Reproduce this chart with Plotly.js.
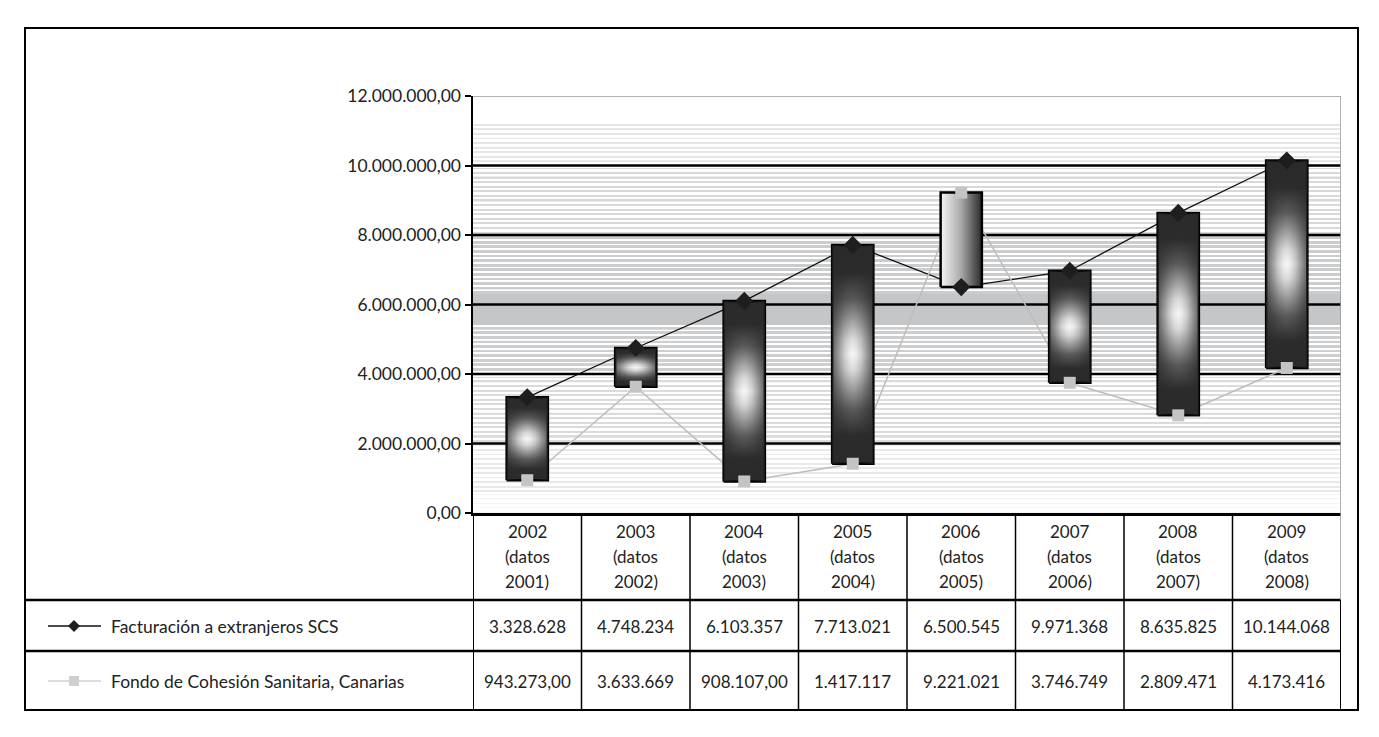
<!DOCTYPE html>
<html>
<head>
<meta charset="utf-8">
<script src="https://cdn.plot.ly/plotly-3.0.1.min.js"></script>
<style>html,body{margin:0;padding:0;background:#fff;}#chart{width:1379px;height:737px;}</style>
</head>
<body>
<div id="chart"></div>
<script>
// ---- data ----
var categories = ['2002 (datos 2001)','2003 (datos 2002)','2004 (datos 2003)','2005 (datos 2004)','2006 (datos 2005)','2007 (datos 2006)','2008 (datos 2007)','2009 (datos 2008)'];
var seriesNames = ['Facturación a extranjeros SCS','Fondo de Cohesión Sanitaria, Canarias'];
var facturacion = [3328628, 4748234, 6103357, 7713021, 6500545, 6971368, 8635825, 10144068];
var fondo = [943273, 3633669, 908107, 1417117, 9221021, 3746749, 2809471, 4173416];
var facturacionTable = ['3.328.628','4.748.234','6.103.357','7.713.021','6.500.545','9.971.368','8.635.825','10.144.068'];
var fondoTable = ['943.273,00','3.633.669','908.107,00','1.417.117','9.221.021','3.746.749','2.809.471','4.173.416'];
var yTickVals = [0, 2000000, 4000000, 6000000, 8000000, 10000000, 12000000];
var yTickText = ['0,00','2.000.000,00','4.000.000,00','6.000.000,00','8.000.000,00','10.000.000,00','12.000.000,00'];

// ---- layout geometry helpers (pixels -> paper) ----
var W = 1379, H = 737;
var mL = 473, mR = 38, mT = 96, mB = 224;
var pw = W - mL - mR, ph = H - mT - mB;
function px(x){ return (x - mL) / pw; }
function py(y){ return (H - mB - y) / ph; }
var FONT = 'Lato, "Open Sans", sans-serif';
var TXT = '#222';

var n = categories.length;
var xs = categories.map(function(_, i){ return i; });
var yMax = yTickVals[yTickVals.length - 1];
var half = 0.19;

// ---- striped background texture (decoration: zones of stripe density) ----
var zones = [ // [from, to, duty, stripe colour] as fractions of plot height from bottom
  [0.00, 0.05, 0.20, '#f4f4f4'],
  [0.05, 0.17, 0.40, '#e9e9e9'],
  [0.17, 0.33, 0.45, '#dbdbdb'],
  [0.33, 0.45, 0.60, '#cdcecf'],
  [0.45, 0.525, 1.00, '#c4c6c8'],
  [0.525, 0.67, 0.60, '#cbcccd'],
  [0.67, 0.83, 0.45, '#d8d9da'],
  [0.83, 0.94, 0.40, '#e6e6e6'],
  [0.94, 1.00, 0.00, '#ffffff']
];
var period = 0.011, eps = 0.0001;
var bgScale = [];
function addStop(t, c){ if (bgScale.length && t <= bgScale[bgScale.length-1][0]) t = bgScale[bgScale.length-1][0] + 0.00001; if (t > 1) t = 1; bgScale.push([t, c]); }
zones.forEach(function(z){
  if (z[2] >= 1 || z[2] <= 0) {
    var c = z[2] >= 1 ? z[3] : '#ffffff';
    addStop(z[0] + eps, c); addStop(z[1] - eps, c); return;
  }
  for (var t = z[0]; t < z[1] - 1e-9; t += period) {
    var e = Math.min(t + period, z[1]);
    var m = t + (e - t) * z[2];
    addStop(t + eps, z[3]); addStop(m - eps, z[3]);
    addStop(m + eps, '#ffffff'); addStop(e - eps, '#ffffff');
  }
});
bgScale[0][0] = 0; bgScale[bgScale.length-1][0] = 1;

var traces = [];
traces.push({
  type:'scatter', mode:'lines', x:[-0.5,7.5,7.5,-0.5,-0.5], y:[0,0,yMax,yMax,0],
  fill:'toself', line:{width:0}, hoverinfo:'skip', showlegend:false,
  fillgradient:{type:'vertical', colorscale:bgScale}
});
// gridlines
var gx = [], gy = [];
yTickVals.slice(1, -1).forEach(function(v){ gx.push(-0.5, 7.5, null); gy.push(v, v, null); });
traces.push({type:'scatter', mode:'lines', x:gx, y:gy, line:{color:'#000', width:2.5}, hoverinfo:'skip', showlegend:false});
traces.push({type:'scatter', mode:'lines', x:[-0.5,7.5,7.5], y:[yMax,yMax,0], line:{color:'#999', width:1.5}, hoverinfo:'skip', showlegend:false});
// series lines (behind bars)
traces.push({type:'scatter', mode:'lines', x:xs, y:facturacion, line:{color:'#111', width:1.3}, hoverinfo:'skip', showlegend:false});
traces.push({type:'scatter', mode:'lines', x:xs, y:fondo, line:{color:'#bdbdbd', width:1.5}, hoverinfo:'skip', showlegend:false});
// up/down bars
var downV = [[0,'#2a2a2a'],[0.13,'#2c2c2c'],[0.25,'#5a5a5a'],[0.35,'#a2a2a2'],[0.43,'#dcdcdc'],[0.5,'#f6f6f6'],
             [0.57,'#dcdcdc'],[0.65,'#a2a2a2'],[0.75,'#5a5a5a'],[0.87,'#2c2c2c'],[1,'#2a2a2a']];
var downH = [[0,'rgba(42,42,42,0.72)'],[0.15,'rgba(42,42,42,0.45)'],[0.3,'rgba(42,42,42,0.18)'],[0.42,'rgba(42,42,42,0.04)'],[0.5,'rgba(42,42,42,0)'],
             [0.58,'rgba(42,42,42,0.04)'],[0.7,'rgba(42,42,42,0.18)'],[0.85,'rgba(42,42,42,0.45)'],[1,'rgba(42,42,42,0.72)']];
for (var i = 0; i < n; i++) {
  var lo = Math.min(facturacion[i], fondo[i]), hi = Math.max(facturacion[i], fondo[i]);
  var up = fondo[i] > facturacion[i];
  var rx = [i-half, i+half, i+half, i-half, i-half], ry = [lo, lo, hi, hi, lo];
  traces.push({
    type:'scatter', mode:'lines', x:rx, y:ry,
    fill:'toself', line:{color:'#000', width:2.5}, hoverinfo:'skip', showlegend:false,
    fillgradient: up ?
      {type:'horizontal', colorscale:[[0,'#f6f6f6'],[0.5,'#a8a8a8'],[1,'#2a2a2a']]} :
      {type:'vertical', colorscale:downV}
  });
  if (!up) {
    traces.push({
      type:'scatter', mode:'lines', x:rx, y:ry,
      fill:'toself', line:{width:0}, hoverinfo:'skip', showlegend:false,
      fillgradient:{type:'horizontal', colorscale:downH}
    });
  }
}
// markers on top
traces.push({type:'scatter', mode:'markers', x:xs, y:facturacion, name:seriesNames[0],
  marker:{symbol:'diamond', size:14, color:'#1e1e1e'}, showlegend:false});
traces.push({type:'scatter', mode:'markers', x:xs, y:fondo, name:seriesNames[1],
  marker:{symbol:'square', size:12, color:'#c4c4c4'}, showlegend:false});

// ---- data table ----
var shapes = [];
var ann = [];
function hline(y, x0, x1, w){ shapes.push({type:'line', xref:'paper', yref:'paper', x0:px(x0), x1:px(x1), y0:py(y), y1:py(y), line:{color:'#000', width:w}}); }
shapes.push({type:'rect', xref:'paper', yref:'paper', x0:px(25), x1:px(1358), y0:py(710), y1:py(28), line:{color:'#000', width:2}});
hline(600, 25, 1341, 2.5);
hline(651, 25, 1341, 2.5);
for (var k = 0; k <= n; k++) {
  if (k === n) {
    shapes.push({type:'line', xref:'x', yref:'paper', x0:k-0.5, x1:k-0.5, y0:py(513), y1:py(600), line:{color:'#999', width:1.5}});
    shapes.push({type:'line', xref:'x', yref:'paper', x0:k-0.5, x1:k-0.5, y0:py(600), y1:py(710), line:{color:'#000', width:2}});
  } else {
    shapes.push({type:'line', xref:'x', yref:'paper', x0:k-0.5, x1:k-0.5, y0:py(513), y1:py(710), line:{color:'#000', width:k===0?2:1.5}});
  }
}
// category labels (three lines each)
var catLineY = [531, 556, 581];
categories.forEach(function(c, j){
  c.split(' ').forEach(function(part, li){
    ann.push({xref:'x', yref:'paper', x:j, y:py(catLineY[li]), text:part, showarrow:false,
      xanchor:'center', yanchor:'middle', font:{family:FONT, size:17, color:TXT}});
  });
});
var rowY = [626, 681];
var rowText = [facturacionTable, fondoTable];
for (var r = 0; r < 2; r++) {
  for (var j = 0; j < n; j++) {
    ann.push({xref:'x', yref:'paper', x:j, y:py(rowY[r]), text:rowText[r][j], showarrow:false,
      xanchor:'center', yanchor:'middle', font:{family:FONT, size:17, color:TXT}});
  }
  ann.push({xref:'paper', yref:'paper', x:px(109), y:py(rowY[r]), text:seriesNames[r], showarrow:false,
    xanchor:'left', yanchor:'middle', font:{family:FONT, size:17.5, color:TXT}});
}
// legend keys
shapes.push({type:'line', xref:'paper', yref:'paper', x0:px(48), x1:px(101), y0:py(626), y1:py(626), line:{color:'#111', width:1.5}});
shapes.push({type:'path', xref:'paper', yref:'paper', xsizemode:'pixel', ysizemode:'pixel', xanchor:px(74), yanchor:py(626),
  path:'M -6 0 L 0 6 L 6 0 L 0 -6 Z', fillcolor:'#1e1e1e', line:{width:0}});
shapes.push({type:'line', xref:'paper', yref:'paper', x0:px(48), x1:px(101), y0:py(681), y1:py(681), line:{color:'#d0d0d0', width:1.5}});
shapes.push({type:'path', xref:'paper', yref:'paper', xsizemode:'pixel', ysizemode:'pixel', xanchor:px(74), yanchor:py(681),
  path:'M -5 -5 L 5 -5 L 5 5 L -5 5 Z', fillcolor:'#cfcfcf', line:{width:0}});

var layout = {
  width:W, height:H, margin:{l:mL, r:mR, t:mT, b:mB, pad:0},
  paper_bgcolor:'#fff', plot_bgcolor:'#fff', showlegend:false,
  font:{family:FONT, color:TXT, size:17},
  xaxis:{range:[-0.5,7.5], tickvals:xs, ticktext:categories, showticklabels:false,
    showline:true, linecolor:'#000', linewidth:2.5, showgrid:false, zeroline:false, ticks:'', fixedrange:true},
  yaxis:{range:[0, yMax], tickvals:yTickVals, ticktext:yTickText, showline:true, linecolor:'#000', linewidth:2.5,
    showgrid:false, zeroline:false, ticks:'outside', ticklen:6, tickwidth:2, tickcolor:'#000',
    tickfont:{family:FONT, size:17.5, color:TXT}, fixedrange:true},
  shapes:shapes, annotations:ann
};
Plotly.newPlot('chart', traces, layout, {displayModeBar:false, staticPlot:true});
</script>
</body>
</html>
